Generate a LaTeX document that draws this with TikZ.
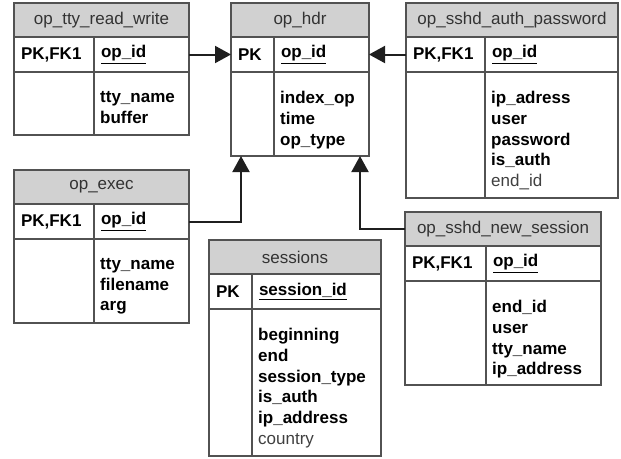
\documentclass[tikz,border=0pt]{standalone}
\usepackage{fontspec}
\setmainfont{Liberation Sans}
\usetikzlibrary{arrows.meta}
\colorlet{lines}{black!68}
\colorlet{headfill}{black!18}
\def\hdrh{34}
\def\keyh{35}
\def\bigfont{\fontsize{17}{20.8}\selectfont}
\def\lite#1{{\color{black!75}\mdseries #1}}
% one table: name, position, width, key column width, body height, title, key label, key field, fields
\newcommand{\erdtable}[9]{%
\node[tabhead, minimum width=#3, anchor=north west] (#1) at #2 {#6};
\node[tabcell, text width=#4-14, minimum height=\keyh, anchor=north west] (#1kl) at (#1.south west) {\textbf{#7}};
\node[tabcell, text width=#3-#4-14, minimum height=\keyh, anchor=north west] (#1kr) at (#1kl.north east) {\textbf{\underline{#8}}};
\node[tabcell, minimum width=#4, minimum height=#5, anchor=north west] (#1bl) at (#1kl.south west) {};
\node[tabcell, minimum width=#3-#4, minimum height=#5, anchor=north west] (#1br) at (#1bl.north east) {};
\node[fieldlist] (#1f) at ([shift={(6,19)}]#1br.north west) {#9};
}
\tikzset{
	tabhead/.style={rectangle,draw=lines,fill=headfill,line width=1.5pt,outer sep=0pt,inner sep=0pt,
		minimum height=\hdrh,text=black!80},
	tabcell/.style={rectangle,draw=lines,fill=white,line width=1.5pt,outer sep=0pt,inner xsep=7pt,
		inner ysep=0pt,align=left},
	fieldlist/.style={anchor=north west,inner sep=0pt,align=left,font=\bigfont\bfseries},
	fk/.style={draw=black!88,line width=2pt,-{Triangle[length=16pt,width=17pt]}},
}
\begin{document}
\begin{tikzpicture}[x=1pt,y=-1pt,font=\bigfont]
\useasboundingbox (0,0) rectangle (621,458);
%TABELLE
\erdtable{ttyrw}{(14,3)}{175}{80}{63}{op\_tty\_read\_write}{PK,FK1}{op\_id}{tty\_name\\buffer}
\erdtable{hdr}{(231,3)}{138}{43}{84}{op\_hdr}{PK}{op\_id}{index\_op\\time\\op\_type}
\erdtable{authpw}{(406,3)}{212}{79}{126}{op\_sshd\_auth\_password}{PK,FK1}{op\_id}{ip\_adress\\user\\password\\is\_auth\\\lite{end\_id}}
\erdtable{exec}{(14,170)}{175}{80}{84}{op\_exec}{PK,FK1}{op\_id}{tty\_name\\filename\\arg}
\erdtable{sess}{(209,240)}{172}{43}{147}{sessions}{PK}{session\_id}{beginning\\end\\session\_type\\is\_auth\\ip\_address\\\lite{country}}
\erdtable{newsess}{(405,212)}{196}{81}{104}{op\_sshd\_new\_session}{PK,FK1}{op\_id}{end\_id\\user\\tty\_name\\ip\_address}
%PUNTI DI ARRIVO
\coordinate (hdrin1) at (241,156);
\coordinate (hdrin2) at (360,156);
%FRECCE
\draw[fk] (ttyrwkr.east) -- (hdrkl.west);
\draw[fk] (authpwkl.west) -- (hdrkr.east);
\draw[fk] (execkr.east) -| (hdrin1);
\draw[fk] (newsess.west) -| (hdrin2);
\end{tikzpicture}
\end{document}
